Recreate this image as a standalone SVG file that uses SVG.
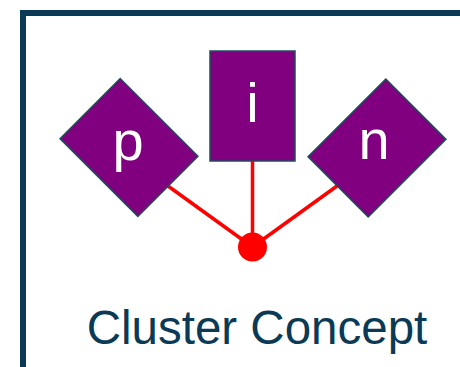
<svg xmlns="http://www.w3.org/2000/svg" width="460" height="367" viewBox="0 0 460 367">
<style>
.shape{fill:#800080;stroke:#1e4d5c;stroke-width:1.5}
.lbl{fill:#ffffff;font-family:"Liberation Sans",Arial,sans-serif;font-size:56px;text-anchor:middle}
.conn{stroke:#ff0000;stroke-width:3.5;fill:none}
</style>
<rect width="460" height="367" fill="#ffffff"/>
<path d="M23,367 V13 H460" fill="none" stroke="#0b3a56" stroke-width="6"/>
<g id="connectors">
<line class="conn" x1="252.5" y1="161" x2="252.5" y2="247"/>
<line class="conn" x1="168" y1="186" x2="252.5" y2="247"/>
<line class="conn" x1="337" y1="186" x2="252.5" y2="247"/>
</g>
<g id="node-p">
<rect class="shape" x="86.5" y="92.5" width="85" height="110" transform="rotate(-45 129 147.5)"/>
<text class="lbl" x="128" y="160">p</text>
</g>
<g id="node-i">
<rect class="shape" x="210" y="51" width="85" height="110"/>
<text class="lbl" x="252.5" y="122">i</text>
</g>
<g id="node-n">
<rect class="shape" x="334.5" y="93" width="85" height="110" transform="rotate(45 377 148)"/>
<text class="lbl" x="374" y="159">n</text>
</g>
<g id="node-dot">
<circle cx="252.5" cy="247" r="14.5" fill="#ff0000"/>
</g>
<text x="257" y="344" fill="#0b3a56" font-family="Liberation Sans,Arial,sans-serif" font-size="47.5" text-anchor="middle">Cluster Concept</text>
</svg>
